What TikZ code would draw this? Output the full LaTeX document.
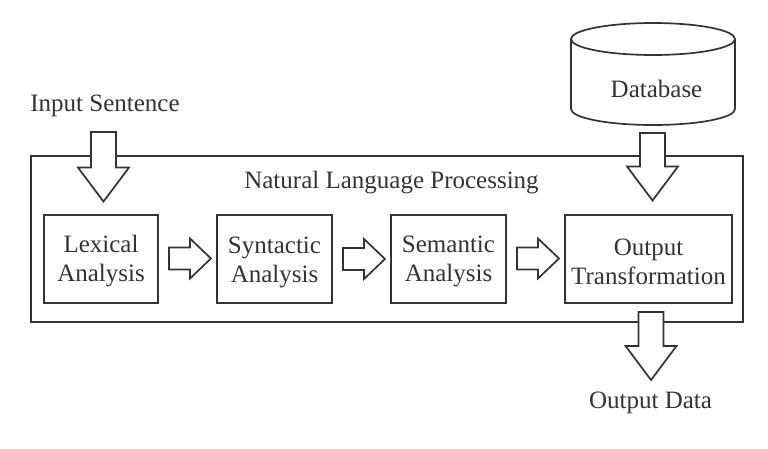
\documentclass[tikz,border=0pt]{standalone}
\usepackage{fontspec}
\setmainfont{Liberation Serif}
\usetikzlibrary{calc}
\definecolor{ink}{HTML}{333333}
\newcommand\hblock[2]{%
 \draw[blockarrow] let \p1=($(#1.east)+(10,0)$), \p2=($(#2.west)+(-5,0)$) in
 (\x1,\y1-11pt) -- (\x2-21pt,\y1-11pt) -- (\x2-21pt,\y1-20pt) -- (\x2,\y1)
 -- (\x2-21pt,\y1+20pt) -- (\x2-21pt,\y1+11pt) -- (\x1,\y1+11pt) -- cycle;}
\newcommand\vblock[2]{%
 \draw[blockarrow] let \p1=(#1), \p2=(#2) in
 (\x1-12.5pt,\y1) -- (\x1+12.5pt,\y1) -- (\x1+12.5pt,\y2+34pt) -- (\x1+25.5pt,\y2+34pt)
 -- (\x1,\y2) -- (\x1-25.5pt,\y2+34pt) -- (\x1-12.5pt,\y2+34pt) -- cycle;}
\begin{document}
\begin{tikzpicture}[x=1pt,y=-1pt,
 every node/.style={font=\fontsize{25}{29}\selectfont, text=ink},
 procbox/.style={draw=ink, line width=2pt, minimum width=#1, minimum height=88pt, inner sep=0pt},
 boxtext/.style={align=center, inner sep=0pt},
 blockarrow/.style={draw=ink, fill=white, line width=1.7pt, line join=miter},
 lbl/.style={anchor=base, inner sep=0pt}]
\useasboundingbox[fill=white] (0,0) rectangle (768,448);

% outer frame
\node[draw=ink, line width=1.9pt, minimum width=712pt, minimum height=166pt, inner sep=0pt] (nlp) at (387,239) {};
\node[lbl] (title) at (391.5,188) {Natural Language Processing};

% processing boxes
\node[procbox=114pt] (lex) at (101,258.5) {};
\node[procbox=115pt] (syn) at (274.5,259) {};
\node[procbox=115pt] (sem) at (448.5,258.5) {};
\node[procbox=167pt] (out) at (648.5,258.5) {};
\node[boxtext] (lexT) at ([yshift=-3pt]lex.center) {Lexical\\Analysis};
\node[boxtext] (synT) at ([yshift=-3pt]syn.center) {Syntactic\\Analysis};
\node[boxtext] (semT) at ([yshift=-3pt]sem.center) {Semantic\\Analysis};
\node[boxtext] (outT) at ([yshift=-3pt]out.center) {Output\\Transformation};

% database
\draw[ink, line width=1.7pt, fill=white] (571,39) -- (571,109)
  arc[start angle=180, end angle=360, x radius=82pt, y radius=16pt] -- (735,39);
\draw[ink, line width=1.7pt, fill=white] (653,39) ellipse [x radius=82pt, y radius=16pt];
\node[lbl] (db) at (656.5,97) {Database};

% labels
\node[lbl] (inp) at (105,111) {Input Sentence};
\node[lbl] (outd) at (650.5,408) {Output Data};

% connector end points
\coordinate (inTop) at (103.5,132);
\coordinate (dbTop) at (652.5,133);
\coordinate (outTop) at (651,312);
\coordinate (outTip) at (651,380);

% block arrows
\vblock{inTop}{$(lex.north)+(0,-12)$}
\vblock{dbTop}{$(out.north)+(0,-13)$}
\vblock{outTop}{outTip}
\hblock{lex}{syn}
\hblock{syn}{sem}
\hblock{sem}{out}
\end{tikzpicture}
\end{document}
